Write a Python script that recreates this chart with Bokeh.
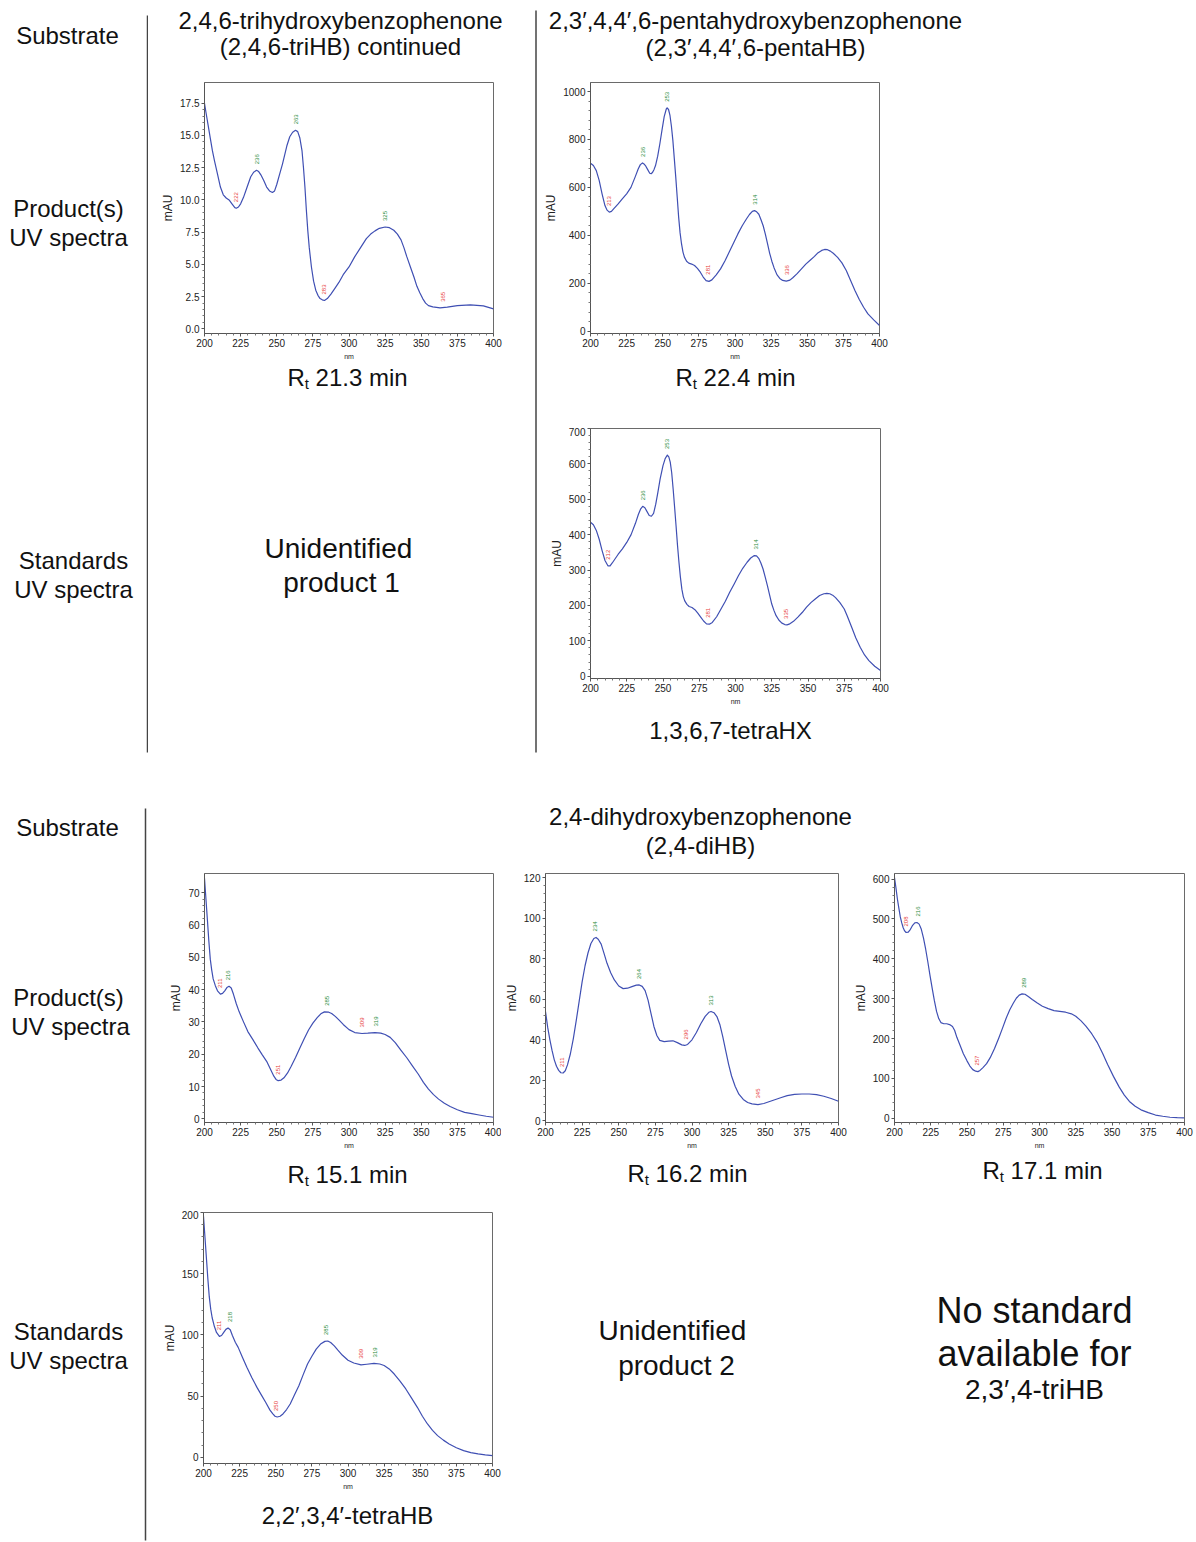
import math
from bokeh.plotting import figure
from bokeh.layouts import row, column
from bokeh.models import Range1d, FixedTicker, ColumnDataSource, PrintfTickFormatter
from bokeh.core.properties import value
from bokeh.embed import file_html
from bokeh.resources import INLINE

FONT = "Liberation Sans"
BLUE = "#3f4fb3"
GREEN = "#2a8c3c"
RED = "#e8413c"
INK = "#111111"

# ---------------- data ----------------
# Panel 1: 2,4,6-triHB product, Rt 21.3 min
p1_nm = [200, 201, 202.5, 204, 205.5, 207, 209, 211, 213, 215, 217, 219, 221, 222, 223.5, 225, 227, 229.5, 232, 234,
         236, 237.5, 239, 241, 243, 245, 247, 248.5, 250, 252, 254, 257, 259, 261, 263, 264.5, 266, 267.5, 268.5, 269.5,
         270.5, 271.5, 272.5, 274, 275.5, 277, 278.5, 280, 281.5, 283, 285, 287.5, 290, 293, 296, 300, 304, 308, 312, 315,
         318, 321, 325, 328, 331, 333.5, 336, 338, 340, 342.5, 345, 347, 349, 351, 353, 355, 358, 363, 368, 375,
         384, 393, 400]
p1_mau = [17.5, 16.8, 15.8, 14.8, 13.8, 13.0, 12.0, 11.0, 10.4, 10.15, 10.0, 9.7, 9.4, 9.36, 9.45, 9.7, 10.2, 11.0, 11.8, 12.15,
          12.3, 12.2, 11.95, 11.5, 11.0, 10.7, 10.58, 10.7, 11.2, 12.0, 12.8, 14.2, 14.9, 15.25, 15.4, 15.3, 14.8, 13.8, 12.5, 11.0,
          9.2, 7.6, 6.3, 4.8, 3.7, 3.0, 2.6, 2.35, 2.25, 2.2, 2.35, 2.7, 3.1, 3.6, 4.2, 4.8, 5.6, 6.3, 7.0, 7.35,
          7.6, 7.8, 7.9, 7.85, 7.65, 7.35, 6.9, 6.3, 5.6, 4.8, 4.0, 3.3, 2.8, 2.35, 2.0, 1.8, 1.7, 1.63, 1.68, 1.8,
          1.86, 1.78, 1.55]
p1_pk_nm = [222, 236, 263, 283, 325, 365]
p1_pk_mau = [9.36, 12.3, 15.4, 2.2, 7.9, 1.63]
p1_pk_kind = ["min", "max", "max", "min", "max", "min"]

# Panel 2: 2,3',4,4',6-pentaHB product, Rt 22.4 min
p2_nm = [200, 202, 204, 206, 208, 210, 211.5, 213, 214.5, 216, 219, 222, 225, 228, 231, 233, 234.5, 236, 237, 238,
         239.5, 241, 242, 243, 244, 245, 246.5, 248, 249.5, 251, 252.5, 253, 254, 255, 256, 257, 258, 259, 260, 261,
         262, 263, 264, 265, 266.5, 268, 270, 272, 274, 276, 278, 280, 282, 284, 287, 290, 293, 296, 299, 302,
         305, 308, 310, 312, 313.5, 315, 316.5, 318, 319.5, 321, 322.5, 324, 325.5, 327, 329, 331, 333, 335.5, 338, 340,
         343, 346, 349, 352, 355, 357, 360, 362, 364, 366, 368, 371, 374, 377, 380, 383, 386, 389, 392, 396,
         400]
p2_mau = [701, 691, 670, 629, 573, 524, 505, 497, 500, 510, 530, 552, 573, 600, 645, 677, 695, 702, 698, 691,
          675, 659, 657, 663, 675, 691, 730, 782, 840, 895, 928, 932, 925, 900, 855, 796, 720, 643, 560, 476,
          410, 364, 330, 309, 292, 284, 280, 274, 262, 246, 226, 211, 208, 214, 235, 260, 293, 330, 368, 406,
          440, 469, 487, 500, 503, 498, 488, 465, 440, 405, 365, 325, 292, 265, 236, 220, 212, 209, 213, 223,
          240, 260, 280, 296, 312, 325, 337, 341, 340, 334, 325, 308, 285, 253, 212, 170, 132, 100, 72, 47,
          24]
p2_pk_nm = [213, 236, 253, 281, 314, 336]
p2_pk_mau = [497, 702, 932, 211, 503, 209]
p2_pk_kind = ["min", "max", "max", "min", "max", "min"]

# Panel 3: standard 1,3,6,7-tetraHX
p3_nm = [200, 202, 204, 206, 208, 210, 212, 213.5, 215, 217, 219, 222, 225, 228, 231, 233, 234.5, 236, 237.5, 239,
         240.5, 242, 243.5, 245, 246.5, 248, 250, 251.5, 253, 254, 255, 256, 257, 258, 259, 260, 261, 262, 263, 264,
         265, 266.5, 268, 270, 272, 274, 276, 278, 280, 282, 284, 287, 290, 293, 296, 299, 302, 305, 308, 310.5,
         313, 314.5, 316, 317.5, 319, 320.5, 322, 323.5, 325, 326.5, 328, 330, 332, 334, 335.5, 337, 340, 343, 346, 349,
         352, 355, 358, 361, 363, 365, 367, 369, 372, 375, 377, 380, 383, 386, 389, 392, 396, 400]
p3_mau = [435, 428, 412, 387, 355, 327, 312, 312, 320, 332, 344, 360, 378, 400, 432, 457, 472, 480, 476, 465,
          454, 452, 460, 486, 520, 557, 595, 615, 625, 620, 605, 575, 529, 478, 425, 370, 322, 280, 246, 225,
          213, 203, 197, 194, 188, 178, 167, 156, 148, 147, 152, 168, 190, 212, 237, 260, 284, 305, 322, 334,
          341, 340, 333, 320, 303, 280, 256, 230, 204, 186, 171, 158, 150, 146, 145, 147, 155, 167, 180, 195,
          208, 218, 228, 233, 234, 233, 229, 222, 208, 190, 171, 140, 108, 82, 60, 44, 28, 16]
p3_pk_nm = [212, 236, 253, 281, 314, 335]
p3_pk_mau = [312, 480, 625, 148, 341, 145]
p3_pk_kind = ["min", "max", "max", "min", "max", "min"]

# Panel 4: 2,4-diHB product, Rt 15.1 min
p4_nm = [200, 201, 202, 203, 204, 205, 206, 207.5, 209, 211, 212.5, 214, 215.5, 217, 218.5, 220, 222, 224, 227, 230,
         233.5, 237, 240, 243, 246, 248, 249.5, 251, 253, 255, 257.5, 260, 263, 266, 269, 272, 275, 278, 280.5, 283,
         286, 288, 290.5, 293, 296, 300, 304, 309, 313, 318, 322, 325, 328.5, 332, 336, 340, 344, 348, 351.5, 355,
         358.5, 362, 366, 370, 375, 380, 385, 390, 395, 400]
p4_mau = [74.4, 68.0, 61.6, 55.0, 49.4, 46.0, 43.3, 41.2, 39.6, 38.6, 38.8, 39.6, 40.6, 41.0, 40.5, 38.6, 35.6, 33.1, 30.0, 27.0,
          24.5, 21.9, 19.8, 17.8, 15.0, 13.2, 12.2, 11.8, 12.0, 12.7, 14.2, 16.3, 19.0, 21.9, 24.8, 27.5, 29.6, 31.3, 32.5, 33.1,
          33.0, 32.6, 31.7, 30.6, 29.2, 27.6, 26.7, 26.4, 26.5, 26.7, 26.5, 26.1, 25.2, 23.6, 21.2, 18.9, 16.3, 13.8, 11.3, 9.2,
          7.5, 6.1, 4.8, 3.8, 2.8, 2.0, 1.6, 1.2, 0.8, 0.5]
p4_pk_nm = [211, 216, 251, 285, 309, 319]
p4_pk_mau = [38.6, 41.0, 11.8, 33.1, 26.4, 26.7]
p4_pk_kind = ["min", "max", "min", "max", "min", "max"]

# Panel 5: 2,4-diHB product, Rt 16.2 min
p5_nm = [200, 201.5, 203, 204.5, 206, 207.5, 209, 210.5, 212, 213.5, 215, 217, 219, 221, 223, 225, 227, 229, 231, 233,
         234.5, 236, 238, 240, 242, 244.5, 247, 250, 253, 256, 259, 262, 264, 266, 268, 270, 272, 274, 276, 278,
         281, 284, 287, 290, 293, 295, 297, 300, 303, 306, 309, 311.5, 313, 315, 317, 319, 321, 323, 325, 327,
         329.5, 332, 335, 338, 341, 345, 349, 353, 357, 361, 365, 370, 375, 380, 385, 390, 395, 400]
p5_mau = [53.9, 46.0, 39.9, 34.5, 30.0, 26.8, 24.8, 23.6, 23.5, 24.6, 27.5, 33.0, 40.5, 49.5, 59.0, 68.5, 76.5, 82.8, 87.5, 90.0,
          90.5, 89.6, 87.2, 82.5, 77.7, 73.0, 69.5, 66.5, 65.2, 65.4, 66.2, 66.9, 67.0, 66.3, 64.2, 59.5, 53.0, 46.5, 42.0, 39.6,
          39.0, 39.2, 39.4, 38.5, 37.4, 37.1, 37.6, 39.9, 43.5, 47.8, 51.5, 53.5, 53.9, 53.3, 51.4, 47.5, 41.5, 34.5, 27.8, 22.0,
          16.8, 13.0, 10.4, 8.9, 8.2, 7.9, 8.4, 9.4, 10.4, 11.4, 12.3, 12.9, 13.1, 13.1, 12.8, 12.0, 10.9, 9.5]
p5_pk_nm = [211, 234, 264, 296, 313, 345]
p5_pk_mau = [23.5, 90.5, 67.0, 37.1, 53.9, 7.9]
p5_pk_kind = ["min", "max", "max", "min", "max", "min"]

# Panel 6: 2,4-diHB product, Rt 17.1 min
p6_nm = [200, 201, 202, 203, 204, 205, 206, 207, 208, 209.5, 211, 212.5, 214, 215.5, 217, 218.5, 220, 221.5, 223, 224.5,
         226, 227.5, 229, 230.5, 232, 234, 236, 238, 240, 241.5, 243, 245, 247.5, 250, 252, 254, 256, 257.5, 259, 261,
         263.5, 266, 269, 272, 274.5, 277, 279.5, 282, 284, 286, 288, 290, 292.5, 295, 298.5, 302, 306, 310, 314, 318,
         322, 325, 328.5, 332, 336, 340, 343.5, 347, 351, 355, 358.5, 362, 366, 370, 375, 380, 385, 390, 395, 400]
p6_mau = [604, 578, 550, 527, 505, 490, 478, 470, 466, 467, 474, 484, 490, 491, 487, 474, 452, 424, 392, 358,
          326, 295, 268, 250, 240, 237, 237, 235, 230, 220, 203, 185, 162, 144, 131, 122, 118, 117, 120, 127,
          137, 152, 175, 202, 226, 251, 272, 289, 301, 309, 312, 311, 305, 298, 289, 281, 275, 270, 268, 266,
          262, 256, 245, 231, 212, 189, 163, 135, 105, 78, 58, 42, 30, 21, 14, 8, 5, 2.5, 1.5, 1]
p6_pk_nm = [208, 216, 257, 289]
p6_pk_mau = [466, 491, 117, 312]
p6_pk_kind = ["min", "max", "min", "max"]

# Panel 7: standard 2,2',3,4'-tetraHB
p7_nm = [200, 201, 202, 203, 204, 205, 206, 207.5, 209, 211, 212.5, 214, 215.5, 217, 218.5, 220, 222, 224, 227, 230,
         233.5, 237, 240, 243, 246, 248, 249.5, 251, 253, 255, 257.5, 260, 263, 266, 269, 272, 275, 278, 281, 284,
         286, 288, 290.5, 293, 296, 300, 304, 309, 313, 318, 322, 325, 328.5, 332, 336, 340, 344, 348, 351.5, 355,
         358.5, 362, 366, 370, 375, 380, 385, 390, 395, 400]
p7_mau = [197, 180, 163, 146, 131, 121, 114, 107, 102, 98.8, 99.5, 102, 104.5, 105.6, 104.2, 99.5, 94, 89.8, 81.5, 73.5,
          65, 57.1, 51, 44.9, 38.5, 35.4, 33.5, 32.9, 33.5, 35.4, 39, 43.5, 51, 58.5, 67.5, 76.2, 82.5, 88.4, 92.5, 94.7,
          95.0, 93.8, 91.0, 87.5, 83.5, 79.3, 77.0, 75.5, 76.0, 76.7, 76.2, 75.0, 72.2, 68.0, 62.2, 55.8, 48.3, 40.8, 33.5, 27.2,
          22.0, 17.7, 14.0, 10.9, 7.8, 5.4, 3.8, 2.7, 1.9, 1.4]
p7_pk_nm = [211, 218, 250, 285, 309, 319]
p7_pk_mau = [98.8, 105.6, 32.9, 95.0, 75.5, 76.7]
p7_pk_kind = ["min", "max", "min", "max", "min", "max"]

x_ticks = [200, 225, 250, 275, 300, 325, 350, 375, 400]
p1_yticks = [0, 2.5, 5, 7.5, 10, 12.5, 15, 17.5]
p2_yticks = [0, 200, 400, 600, 800, 1000]
p3_yticks = [0, 100, 200, 300, 400, 500, 600, 700]
p4_yticks = [0, 10, 20, 30, 40, 50, 60, 70]
p5_yticks = [0, 20, 40, 60, 80, 100, 120]
p6_yticks = [0, 100, 200, 300, 400, 500, 600]
p7_yticks = [0, 50, 100, 150, 200]


# ---------------- helpers ----------------
def text_fig(w, h):
    p = figure(width=w, height=h, x_range=Range1d(0, w), y_range=Range1d(h, 0),
               x_axis_location=None, y_axis_location=None, toolbar_location=None,
               output_backend="svg", min_border=0, outline_line_color=None)
    p.xgrid.visible = False
    p.ygrid.visible = False
    p.background_fill_color = "white"
    p.border_fill_color = "white"
    return p


def put(p, x, y, s, size=24, align="center"):
    p.text(x=[x], y=[y], text=[s], text_font=value(FONT), text_font_size=f"{size}px",
           text_align=align, text_baseline="middle", text_color=INK)


def vline(p, x, y0, y1):
    p.line(x=[x, x], y=[y0, y1], line_color="#444444", line_width=1.5)


def rt_caption(p, cx, cy, rest):
    # "R" with subscript "t" followed by the retention time
    size = 24
    w_r = 0.722 * size
    w_t = 0.278 * 15
    w_sp = 0.278 * size
    w_rest = 0.0
    widths = {"0": .556, "1": .556, "2": .556, "3": .556, "4": .556, "5": .556, "6": .556, "7": .556,
              "8": .556, "9": .556, ".": .278, " ": .278, "m": .833, "i": .222, "n": .556}
    for ch in rest:
        w_rest += widths.get(ch, .55) * size
    total = w_r + w_t + w_sp + w_rest
    x0 = cx - total / 2
    p.text(x=[x0], y=[cy], text=["R"], text_font=value(FONT), text_font_size="24px",
           text_align="left", text_baseline="middle", text_color=INK)
    p.text(x=[x0 + w_r], y=[cy + 6], text=["t"], text_font=value(FONT), text_font_size="15px",
           text_align="left", text_baseline="middle", text_color=INK)
    p.text(x=[x0 + w_r + w_t + w_sp], y=[cy], text=[rest], text_font=value(FONT), text_font_size="24px",
           text_align="left", text_baseline="middle", text_color=INK)


def minor_of(ticks, n):
    out = []
    for a, b in zip(ticks[:-1], ticks[1:]):
        step = (b - a) / n
        out += [a + k * step for k in range(1, n)]
    return out


def spectrum(w, h, bl, br, bt, bb, yr, yticks, nm, mau, pk_nm, pk_mau, pk_kind, fmt=None):
    p = figure(width=w, height=h, x_range=Range1d(200, 400), y_range=Range1d(*yr),
               toolbar_location=None, output_backend="svg",
               min_border_left=bl, min_border_right=br, min_border_top=bt, min_border_bottom=bb)
    p.xgrid.visible = False
    p.ygrid.visible = False
    p.outline_line_color = "#6a6a6a"
    p.outline_line_width = 1
    p.background_fill_color = "white"
    p.border_fill_color = "white"
    p.line(nm, mau, line_color=BLUE, line_width=1.2, line_join="round")
    src = ColumnDataSource(dict(x=pk_nm, y=pk_mau, t=[str(n) for n in pk_nm],
                                c=[GREEN if k == "max" else RED for k in pk_kind]))
    p.text(x="x", y="y", text="t", text_color="c", source=src, angle=math.pi / 2,
           text_align="left", text_baseline="middle", y_offset=-6,
           text_font_size="6px", text_font=value(FONT))
    xa = p.xaxis[0]
    ya = p.yaxis[0]
    xa.ticker = FixedTicker(ticks=x_ticks, minor_ticks=minor_of(x_ticks, 5))
    ya.ticker = FixedTicker(ticks=yticks, minor_ticks=minor_of(yticks, 5))
    if fmt:
        ya.formatter = PrintfTickFormatter(format=fmt)
    for ax in (xa, ya):
        ax.axis_line_color = "#555555"
        ax.major_tick_line_color = "#555555"
        ax.minor_tick_line_color = "#777777"
        ax.major_tick_out = 3
        ax.major_tick_in = 0
        ax.minor_tick_out = 2
        ax.minor_tick_in = 0
        ax.major_label_text_font = FONT
        ax.major_label_text_font_size = "10px"
        ax.major_label_text_color = "#222222"
        ax.major_label_standoff = 2
        ax.axis_label_text_font = FONT
        ax.axis_label_text_font_style = "normal"
        ax.axis_label_text_color = "#222222"
    xa.axis_label = "nm"
    xa.axis_label_text_font_size = "7px"
    xa.axis_label_standoff = 3
    ya.axis_label = "mAU"
    ya.axis_label_text_font_size = "12px"
    ya.axis_label_standoff = 2
    return p


def solo(fig):
    # wrap a figure so that sibling frames are not aligned by the column
    return row(fig)


# ---------------- top section (height 780) ----------------
colA = text_fig(148, 780)
put(colA, 67, 35, "Substrate")
put(colA, 68, 208, "Product(s)")
put(colA, 68, 237, "UV spectra")
put(colA, 73, 560, "Standards")
put(colA, 73, 589, "UV spectra")
vline(colA, 147, 15, 752)

b1 = text_fig(386, 81)
put(b1, 192, 20, "2,4,6-trihydroxybenzophenone")
put(b1, 192, 46, "(2,4,6-triHB) continued")
spec1 = spectrum(386, 282, 56, 41, 1, 30, (-0.36, 19.11), p1_yticks,
                 p1_nm, p1_mau, p1_pk_nm, p1_pk_mau, p1_pk_kind, fmt="%.1f")
b3 = text_fig(386, 417)
rt_caption(b3, 199, 14, "21.3 min")
put(b3, 190, 185, "Unidentified", 28)
put(b3, 193, 219, "product 1", 28)
colB = column(solo(b1), solo(spec1), solo(b3))

line_col = text_fig(3, 780)
vline(line_col, 1.5, 10, 752)

c1 = text_fig(659, 81)
put(c1, 218, 20, "2,3\u2032,4,4\u2032,6-pentahydroxybenzophenone")
put(c1, 218, 47, "(2,3\u2032,4,4\u2032,6-pentaHB)")
spec2 = spectrum(659, 282, 53, 317, 1, 30, (-9.6, 1037.6), p2_yticks,
                 p2_nm, p2_mau, p2_pk_nm, p2_pk_mau, p2_pk_kind)
cap2 = text_fig(659, 64)
rt_caption(cap2, 198, 14, "22.4 min")
spec3 = spectrum(659, 283, 53, 316, 1, 32, (-6.5, 700), p3_yticks,
                 p3_nm, p3_mau, p3_pk_nm, p3_pk_mau, p3_pk_kind)
cap3 = text_fig(659, 70)
put(cap3, 193, 20, "1,3,6,7-tetraHX")
colC = column(solo(c1), solo(spec2), solo(cap2), solo(spec3), solo(cap3))

top = row(colA, colB, line_col, colC)

# ---------------- bottom section (height 762) ----------------
colA2 = text_fig(148, 762)
put(colA2, 67, 47, "Substrate")
put(colA2, 68, 217, "Product(s)")
put(colA2, 70, 246, "UV spectra")
put(colA2, 68, 551, "Standards")
put(colA2, 68, 580, "UV spectra")
vline(colA2, 145, 28, 760)

hdr = text_fig(1048, 90)
put(hdr, 552, 36, "2,4-dihydroxybenzophenone")
put(hdr, 552, 65, "(2,4-diHB)")

spec4 = spectrum(353, 284, 56, 8, 0, 32, (-1.13, 75.9), p4_yticks,
                 p4_nm, p4_mau, p4_pk_nm, p4_pk_mau, p4_pk_kind)
spec5 = spectrum(349, 284, 44, 12, 3, 31, (-0.98, 122.1), p5_yticks,
                 p5_nm, p5_mau, p5_pk_nm, p5_pk_mau, p5_pk_kind)
spec6 = spectrum(346, 284, 44, 12, 1, 32, (-10.7, 614), p6_yticks,
                 p6_nm, p6_mau, p6_pk_nm, p6_pk_mau, p6_pk_kind)

cap4 = text_fig(353, 56)
rt_caption(cap4, 199, 20, "15.1 min")
cap5 = text_fig(349, 56)
rt_caption(cap5, 186, 19, "16.2 min")
cap6 = text_fig(346, 56)
rt_caption(cap6, 192, 16, "17.1 min")

spec7 = spectrum(353, 284, 55, 9, 2, 31, (-5.1, 200), p7_yticks,
                 p7_nm, p7_mau, p7_pk_nm, p7_pk_mau, p7_pk_kind)
cap7 = text_fig(353, 48)
put(cap7, 199, 21, "2,2\u2032,3,4\u2032-tetraHB")

txt2 = text_fig(349, 332)
put(txt2, 171, 120, "Unidentified", 28)
put(txt2, 175, 155, "product 2", 28)
txt3 = text_fig(346, 332)
put(txt3, 184, 100, "No standard", 36)
put(txt3, 184, 143, "available for", 36)
put(txt3, 184, 179, "2,3\u2032,4-triHB", 28)

right_bottom = column(solo(hdr), row(spec4, spec5, spec6), row(cap4, cap5, cap6),
                      row(column(solo(spec7), solo(cap7)), txt2, txt3))
bottom = row(colA2, right_bottom)

page = column(top, bottom)

open("out.html", "w").write(file_html(page, INLINE))
